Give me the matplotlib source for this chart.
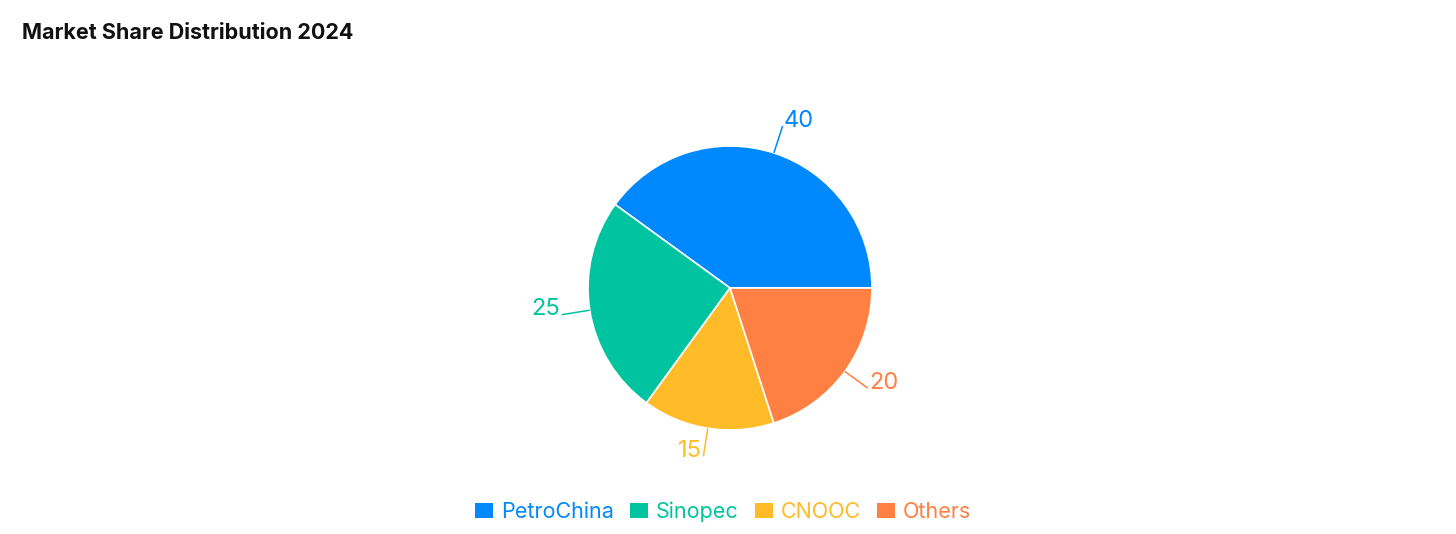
import matplotlib
matplotlib.use("Agg")
import matplotlib.pyplot as plt
from matplotlib.patches import Patch
import numpy as np

plt.rcParams['font.family'] = ['Inter', 'DejaVu Sans']

# Datos
companias = ['PetroChina', 'Sinopec', 'CNOOC', 'Others']
cuota = [40, 25, 15, 20]
colores = ['#0088FE', '#00C49F', '#FFBB28', '#FF8042']

W, H = 1456, 534
fig = plt.figure(figsize=(W / 100, H / 100), dpi=100)

# Eje cuadrado centrado en el pastel (radio 1 = 142 px)
cx, cy, half = 730, 288, 200
ax = fig.add_axes([(cx - half) / W, (H - cy - half) / H, 2 * half / W, 2 * half / H])

wedges, _ = ax.pie(cuota, colors=colores, startangle=0, counterclock=True,
                   radius=1.0, wedgeprops=dict(edgecolor='white', linewidth=1.2))

# pie() fija sus propios limites, se cambian despues
lim = half / 142
ax.set_xlim(-lim, lim)
ax.set_ylim(-lim, lim)
ax.set_aspect('equal')
ax.axis('off')

# Etiquetas con lineas guia
for w, v, c in zip(wedges, cuota, colores):
    ang = np.deg2rad((w.theta1 + w.theta2) / 2)
    x0, y0 = np.cos(ang), np.sin(ang)
    x1, y1 = 1.2 * x0, 1.2 * y0
    ax.plot([x0, x1], [y0, y1], color=c, lw=1.1, solid_capstyle='butt')
    ha = 'left' if x0 > 0 else 'right'
    dx = 0.01 if x0 > 0 else -0.01
    ax.text(x1 + dx, y1 - 0.005, str(v), color=c, fontsize=17, ha=ha, va='baseline')

fig.text(22 / W, 1 - 33 / H, 'Market Share Distribution 2024', fontsize=15.5,
         fontweight='bold', color='#111111', ha='left', va='center')

handles = [Patch(facecolor=c, edgecolor='none') for c in colores]
fig.legend(handles, companias, loc='center', bbox_to_anchor=(723 / W, 1 - 512 / H),
           ncol=4, frameon=False, fontsize=15.5, labelcolor=colores,
           handlelength=0.85, handleheight=0.7, handletextpad=0.35,
           columnspacing=0.75)

fig.savefig('out.png', dpi=100, facecolor='white')
